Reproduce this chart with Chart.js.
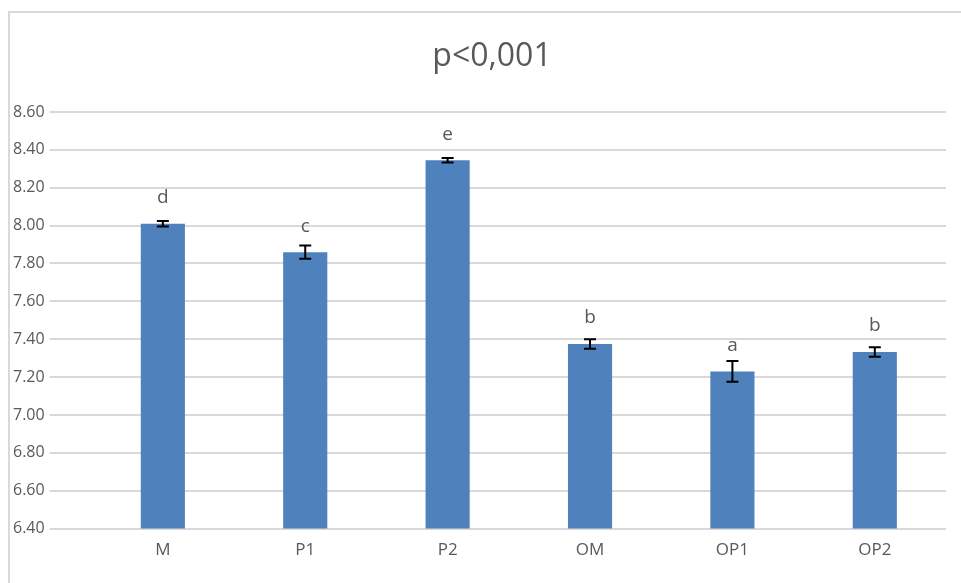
<!DOCTYPE html>
<html lang="pt-br">

<head>
    <meta charset="UTF-8">
    <title>p<0,001</title>
    <script src="https://cdn.jsdelivr.net/npm/chart.js"></script>
    <style>
        html, body { margin: 0; padding: 0; background: #fff; overflow: hidden; }
        #moldura {
            position: absolute; left: 8px; top: 11px; width: 980px; height: 600px;
            border: 2px solid #d9d9d9; box-sizing: border-box;
        }
        #grafico { position: absolute; left: 0; top: 0; }
    </style>
</head>

<body>
    <div id="moldura"></div>
    <canvas id="grafico" width="961" height="583"></canvas>

    <script>
        // dados
        const categorias = ['M', 'P1', 'P2', 'OM', 'OP1', 'OP2'];
        const medias = [8.01, 7.86, 8.345, 7.375, 7.23, 7.333];
        const erros = [0.015, 0.035, 0.012, 0.025, 0.055, 0.025];
        const letras = ['d', 'c', 'e', 'b', 'a', 'b'];
        const titulo = 'p<0,001';

        const corTexto = '#595959';
        const fonte = "'Open Sans', sans-serif";

        // título (centralizado na área do gráfico, como no Excel), barras de erro e letras
        const pluginErros = {
            id: 'barrasErro',
            afterDatasetsDraw(chart) {
                const ctx = chart.ctx;
                const x = chart.scales.x;
                const y = chart.scales.y;
                ctx.save();

                ctx.fillStyle = corTexto;
                ctx.font = '32px ' + fonte;
                ctx.textAlign = 'center';
                ctx.textBaseline = 'middle';
                ctx.fillText(titulo, 492, 57);

                medias.forEach((m, i) => {
                    const px = x.getPixelForValue(i);
                    const topo = y.getPixelForValue(m + erros[i]);
                    const base = y.getPixelForValue(m - erros[i]);
                    ctx.strokeStyle = '#000';
                    ctx.lineWidth = 2;
                    ctx.beginPath();
                    ctx.moveTo(px, topo); ctx.lineTo(px, base);
                    ctx.moveTo(px - 6, topo); ctx.lineTo(px + 6, topo);
                    ctx.moveTo(px - 6, base); ctx.lineTo(px + 6, base);
                    ctx.stroke();

                    ctx.fillStyle = corTexto;
                    ctx.font = '19px ' + fonte;
                    ctx.fillText(letras[i], px, y.getPixelForValue(m) - 26);
                });
                ctx.restore();
            }
        };

        const config = {
            type: 'bar',
            data: {
                labels: categorias,
                datasets: [{
                    data: medias,
                    backgroundColor: '#4f81bd',
                    borderWidth: 0,
                    barPercentage: 0.62,
                    categoryPercentage: 0.5
                }]
            },
            options: {
                responsive: false,
                animation: false,
                layout: { padding: { left: 8, right: 15, top: 112, bottom: 20 } },
                plugins: {
                    legend: { display: false },
                    tooltip: { enabled: false },
                    title: { display: false }
                },
                scales: {
                    x: {
                        grid: { display: false },
                        border: { display: false },
                        ticks: { color: corTexto, font: { family: fonte, size: 17 }, padding: 3 }
                    },
                    y: {
                        min: 6.4,
                        max: 8.6,
                        // as linhas de grade continuam até os rótulos (como no Excel)
                        grid: { color: '#d9d9d9', lineWidth: 2, drawTicks: true, tickLength: 42 },
                        border: { display: false },
                        ticks: {
                            stepSize: 0.2,
                            color: corTexto,
                            font: { family: fonte, size: 16 },
                            padding: 5,
                            callback: v => Number(v).toFixed(2)
                        }
                    }
                }
            },
            plugins: [pluginErros]
        };

        new Chart(document.getElementById('grafico').getContext('2d'), config);
    </script>
</body>

</html>
